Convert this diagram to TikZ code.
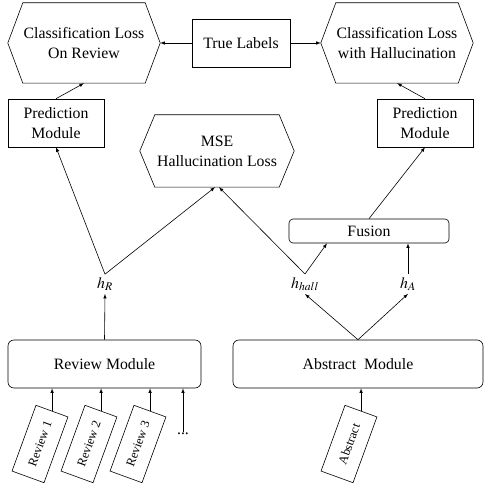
\documentclass[tikz,border=0pt]{standalone}
\usepackage{mathptmx}
\usepackage{fontspec}
\setmainfont{Liberation Serif}
\usetikzlibrary{arrows}

\tikzset{
  every node/.style={font=\fontsize{15.8}{20}\selectfont, align=center},
  box/.style={draw, line width=0.6pt, inner sep=2pt},
  hexbox/.style={inner sep=2pt},
  modbox/.style={box, rounded corners=6pt},
  docbox/.style={box, rotate=70, minimum width=70pt, minimum height=34pt,
    font=\fontsize{12.5}{15}\selectfont},
  hvec/.style={inner sep=3pt},
  link/.style={-latex, line width=0.6pt}
}

\begin{document}
\begin{tikzpicture}[x=1pt,y=-1pt]

\useasboundingbox (0,0) rectangle (487,486);

% Row 1

\node[hexbox, minimum width=152pt, minimum height=80pt] (hexL) at (84,43) {Classification Loss\\On Review};
\node[box, minimum width=98pt, minimum height=48pt] (labels) at (241,43) {True Labels};
\node[hexbox, minimum width=152pt, minimum height=80pt] (hexR) at (397,43) {Classification Loss\\with Hallucination};

\draw[link] (labels.west) -- (hexL.east);
\draw[link] (labels.east) -- (hexR.west);

% Row 2

\node[box, minimum width=96pt, minimum height=48pt] (predL) at (56,123) {Prediction\\Module};
\node[box, minimum width=96pt, minimum height=48pt] (predR) at (425,123) {Prediction\\Module};
\node[hexbox, minimum width=154pt, minimum height=72pt] (mse) at (217,151) {MSE\\Hallucination Loss};
\node[modbox, minimum width=160pt, minimum height=24pt, rounded corners=4pt] (fusion) at (369,231) {Fusion};

\foreach \n/\c in {hexL/15, hexR/15, mse/15}
  \draw[line width=0.6pt] ([xshift=\c]\n.north west) -- ([xshift=-\c]\n.north east) -- (\n.east)
    -- ([xshift=-\c]\n.south east) -- ([xshift=\c]\n.south west) -- (\n.west) -- cycle;

\draw[link] (predL.north) -- (hexL.south);
\draw[link] (predR.north) -- (hexR.south);
\draw[link] (fusion.north) -- (predR.south);

% Row 3

\node[hvec] (hR) at (105,284) {$h_R$};
\node[hvec] (hhall) at (305,284) {$h_{hall}$};
\node[hvec] (hA) at (408,284) {$h_A$};

\draw[link] (hR.north) -- (predL.south);
\draw[link] (hR.north) -- ([xshift=-2]mse.south);
\draw[link] (hhall.north) -- ([xshift=2]mse.south);
\draw[link] (hhall.north) -- ([xshift=-42]fusion.south);
\draw[link] (hA.north) -- (hA.north |- fusion.south);

% Row 4

\node[modbox, minimum width=193pt, minimum height=48pt] (review) at (104.5,364) {Review Module};
\node[modbox, minimum width=250pt, minimum height=48pt] (abstract) at (358,364) {Abstract\ \ Module};

\draw[link] (review.north) -- (hR.south);
\draw[link] (abstract.north) -- (hhall.south);
\draw[link] (abstract.north) -- (hA.south);

% Inputs

\node[docbox] (rev1) at (40,444) {Review 1};
\node[docbox] (rev2) at (89,444) {Review 2};
\node[docbox] (rev3) at (138,444) {Review 3};
\node[inner sep=1pt] (dots) at (183,434) {...};
\node[docbox] (abs) at (349,444) {Abstract};

\foreach \n in {rev1, rev2, rev3, abs}
  \draw[link] (\n.east) -- (\n.east |- review.south);
\draw[link] (dots.north) -- (dots.north |- review.south);

\end{tikzpicture}
\end{document}
